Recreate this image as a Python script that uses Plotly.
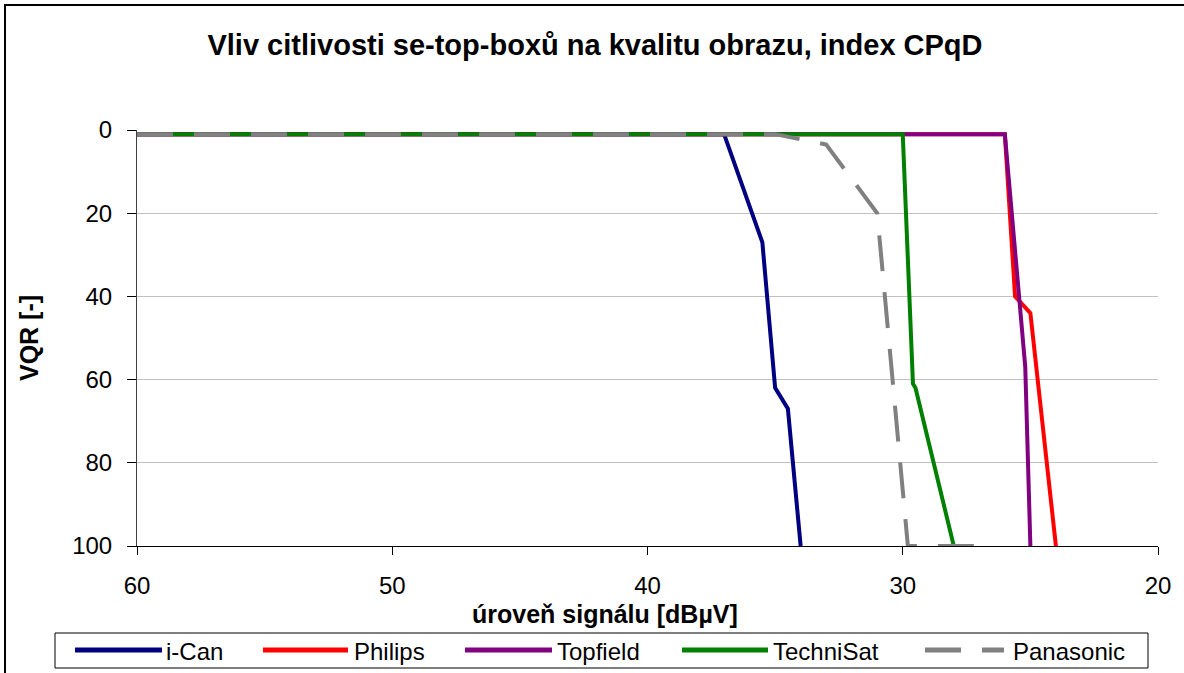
import plotly.graph_objects as go

# VQR (index CPqD) versus input signal level for five set-top boxes
ican_x = [60, 37, 35.5, 35, 34.5, 34]
ican_y = [1, 1, 27, 62, 67, 100]

philips_x = [60, 26, 25.6, 25, 24]
philips_y = [1, 1, 40, 44, 100]

topfield_x = [60, 26, 25.2, 25]
topfield_y = [1, 1, 57, 100]

technisat_x = [60, 30, 29.6, 29.5, 28]
technisat_y = [1, 1, 61, 62, 100]

panasonic_x = [60, 35, 33, 31, 29.8, 27]
panasonic_y = [1, 1, 3.5, 20, 100, 100]

series_names = ["i-Can", "Philips", "Topfield", "TechniSat", "Panasonic"]
series_x = [ican_x, philips_x, topfield_x, technisat_x, panasonic_x]
series_y = [ican_y, philips_y, topfield_y, technisat_y, panasonic_y]
series_colors = ["#000080", "#FF0000", "#800080", "#008000", "#808080"]
series_dash = ["solid", "solid", "solid", "solid", "36px,21px"]

x_ticks = [60, 50, 40, 30, 20]
y_ticks = [0, 20, 40, 60, 80, 100]

W, H = 1184, 673
PL, PR, PT, PB = 137, 1158, 130, 546  # plot area in pixels


def px(xp):
    return (xp - PL) / (PR - PL)


def py(yp):
    return (PB - yp) / (PB - PT)


FONT = "Liberation Sans, Arial, sans-serif"

fig = go.Figure()
for name, xs, ys, col, dash in zip(series_names, series_x, series_y, series_colors, series_dash):
    fig.add_trace(go.Scatter(
        x=xs, y=ys, name=name, mode="lines",
        line=dict(color=col, width=4, dash=dash),
        showlegend=False,
    ))

shapes = []
annotations = []

# outer chart frame
shapes.append(dict(type="rect", xref="paper", yref="paper",
                   x0=px(5), x1=px(1250), y0=py(5), y1=py(720),
                   line=dict(color="black", width=2), layer="below"))

# legend box
shapes.append(dict(type="rect", xref="paper", yref="paper",
                   x0=px(55), x1=px(1148), y0=py(633), y1=py(668),
                   line=dict(color="black", width=1), fillcolor="white"))

legend_items = [
    (75, 162, 164),
    (263, 348, 352),
    (465, 552, 555),
    (682, 768, 771),
    (925, 1004, 1011),
]
ly = 650
for (l0, l1, tx), name, col, dash in zip(legend_items, series_names, series_colors, series_dash):
    shapes.append(dict(type="line", xref="paper", yref="paper",
                       x0=px(l0), x1=px(l1), y0=py(ly), y1=py(ly),
                       line=dict(color=col, width=5, dash=dash)))
    annotations.append(dict(text=name, xref="paper", yref="paper",
                            x=px(tx), y=py(ly + 1), xanchor="left", yanchor="middle",
                            showarrow=False, font=dict(family=FONT, size=24, color="black")))

# axis titles
annotations.append(dict(text="<b>úroveň signálu [dBµV]</b>", xref="paper", yref="paper",
                        x=px(605), y=py(614), xanchor="center", yanchor="middle",
                        showarrow=False, font=dict(family=FONT, size=25, color="black")))
annotations.append(dict(text="<b>VQR [-]</b>", xref="paper", yref="paper",
                        x=px(29), y=py(338), xanchor="center", yanchor="middle",
                        textangle=-90, showarrow=False,
                        font=dict(family=FONT, size=25, color="black")))

fig.update_layout(
    width=W, height=H,
    margin=dict(l=PL, r=W - PR, t=PT, b=H - PB),
    paper_bgcolor="white", plot_bgcolor="white",
    title=dict(text="<b>Vliv citlivosti se-top-boxů na kvalitu obrazu, index CPqD</b>",
               x=595 / W, xanchor="center", y=1 - 45 / H, yanchor="middle",
               xref="container", yref="container",
               font=dict(family=FONT, size=29, color="black")),
    shapes=shapes,
    annotations=annotations,
    xaxis=dict(range=[60, 20], tickvals=x_ticks, ticktext=[str(v) for v in x_ticks],
               showgrid=False, zeroline=False,
               showline=True, linecolor="black", linewidth=1,
               ticks="outside", ticklen=8, tickcolor="black",
               ticklabelstandoff=10,
               tickfont=dict(family=FONT, size=24, color="black")),
    yaxis=dict(range=[100, 0], tickvals=y_ticks, ticktext=[str(v) for v in y_ticks],
               showgrid=True, gridcolor="#C0C0C0", gridwidth=1, zeroline=False,
               showline=True, linecolor="#404040", linewidth=1,
               ticks="outside", ticklen=9, tickcolor="black",
               ticklabelstandoff=10,
               tickfont=dict(family=FONT, size=24, color="black")),
)

fig.write_html("out.html")
